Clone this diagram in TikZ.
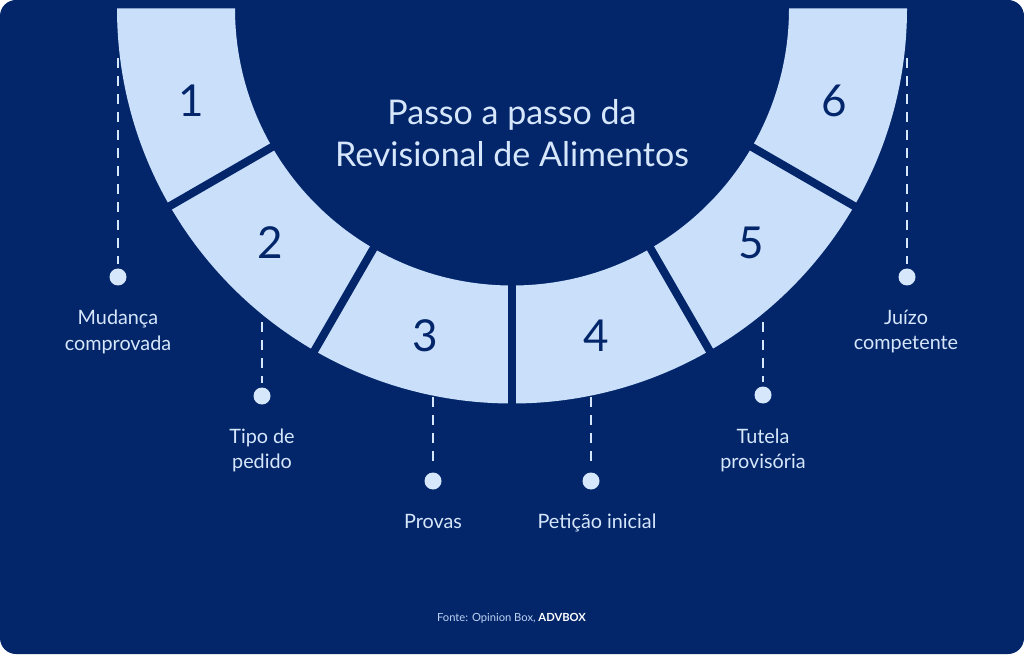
\documentclass[tikz,border=0pt]{standalone}
\usepackage{fontspec}
\setmainfont{Lato}
\usetikzlibrary{calc}
\definecolor{navy}{HTML}{03266B}
\definecolor{ringblue}{HTML}{C9DFFA}
\definecolor{labelblue}{HTML}{D6E7FB}
\definecolor{footblue}{HTML}{BFD3F2}
\tikzset{
  num/.style={inner sep=0pt, text=navy, font=\fontsize{44}{44}\selectfont},
  lbl/.style={inner sep=0pt, anchor=base, text=labelblue, font=\fontsize{19.8}{26}\selectfont},
  ttl/.style={inner sep=0pt, anchor=base, text=labelblue, font=\fontsize{34}{42}\selectfont},
  dotnode/.style={circle, fill=labelblue, minimum size=17pt, inner sep=0pt},
  dashline/.style={draw=labelblue, line width=2pt, dash pattern=on 10pt off 8pt},
  gapline/.style={draw=navy, line width=8pt}
}
\begin{document}
\begin{tikzpicture}[x=1pt,y=1pt]
\useasboundingbox (0,0) rectangle (1024,654);
\fill[white] (0,0) rectangle (1024,654);
\fill[navy, rounded corners=16pt] (0,0) rectangle (1024,654);
\coordinate (C) at (512,645.5);
% ring
\fill[ringblue] (117,645.5) arc[start angle=180, end angle=360, radius=395]
  -- (789,645.5) arc[start angle=0, end angle=-180, radius=277] -- cycle;
\foreach \a in {210,240,270,300,330}{
  \draw[gapline] ($(C)+(\a:270)$) -- ($(C)+(\a:402)$);
}
% numbers
\node[num] (n1) at (191,553) {1};
\node[num] (n2) at (270.5,411) {2};
\node[num] (n3) at (425.5,318.5) {3};
\node[num] (n4) at (596.5,318.5) {4};
\node[num] (n5) at (751,411.5) {5};
\node[num] (n6) at (834.5,553) {6};
% title
\node[ttl] (t1) at (512,529) {Passo a passo da};
\node[ttl] (t2) at (512,487) {Revisional de Alimentos};
% dots
\node[dotnode] (d1) at (118,377) {};
\node[dotnode] (d2) at (262,258) {};
\node[dotnode] (d3) at (433,173) {};
\node[dotnode] (d4) at (591,173) {};
\node[dotnode] (d5) at (763,259) {};
\node[dotnode] (d6) at (907,377) {};
% dashed connectors
\coordinate (s1) at (118,596);
\coordinate (s2) at (262,332);
\coordinate (s3) at (433,257);
\coordinate (s4) at (591,257);
\coordinate (s5) at (763,332);
\coordinate (s6) at (907,596);
\foreach \i in {1,...,6}{
  \draw[dashline] (s\i) -- ([yshift=4pt]d\i.north);
}
% labels
\node[lbl] (l1a) at (118,330) {Mudança};
\node[lbl] (l1b) at (118,304) {comprovada};
\node[lbl] (l2a) at (262,211) {Tipo de};
\node[lbl] (l2b) at (262,186) {pedido};
\node[lbl] (l3) at (433,126) {Provas};
\node[lbl] (l4) at (597,126) {Petição inicial};
\node[lbl] (l5a) at (763,211) {Tutela};
\node[lbl] (l5b) at (763,186) {provisória};
\node[lbl] (l6a) at (906,330) {Juízo};
\node[lbl] (l6b) at (906,304.5) {competente};
% footer
\node[inner sep=0pt, anchor=base, font=\fontsize{11.2}{14}\selectfont] (foot) at (511.5,32.3)
  {\textcolor{footblue}{Fonte: Opinion Box,} \textcolor{white}{\bfseries ADVBOX}};
\end{tikzpicture}
\end{document}
